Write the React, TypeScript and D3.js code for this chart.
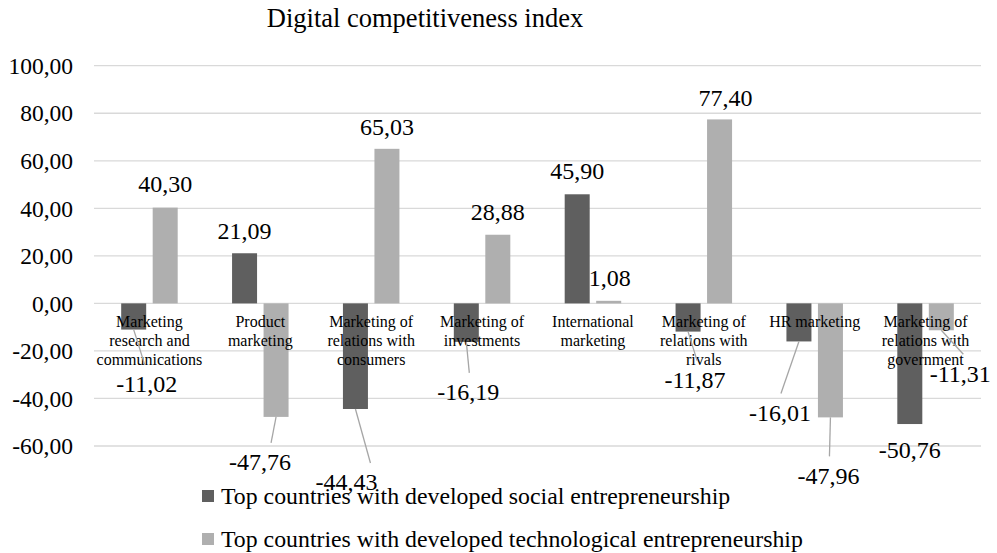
import React from "react";
import * as d3 from "d3";

const categories: string[][] = [
  ["Marketing", "research and", "communications"],
  ["Product", "marketing"],
  ["Marketing of", "relations with", "consumers"],
  ["Marketing of", "investments"],
  ["International", "marketing"],
  ["Marketing of", "relations with", "rivals"],
  ["HR marketing"],
  ["Marketing of", "relations with", "government"],
];
const socialValues = [-11.02, 21.09, -44.43, -16.19, 45.9, -11.87, -16.01, -50.76];
const techValues = [40.3, -47.76, 65.03, 28.88, 1.08, 77.4, -47.96, -11.31];
const seriesNames = [
  "Top countries with developed social entrepreneurship",
  "Top countries with developed technological entrepreneurship",
];
const yTicks = [-60, -40, -20, 0, 20, 40, 60, 80, 100];

// label placement tweaks (dx, dy from bar end, leader end dx, leader flag)
const socialLabelAdj: [number, number, number, boolean][] = [
  [13, 54, -2, true],
  [0, -23, 0, false],
  [-9, 73, 24, true],
  [2, 50, 1, true],
  [0, -24, 0, false],
  [7, 48, 2, true],
  [-19, 71, 1, true],
  [0, 26, 0, false],
];
const techLabelAdj: [number, number, number, boolean][] = [
  [0, -24, 0, false],
  [-16, 45, 11, true],
  [0, -22, 0, false],
  [0, -23, 0, false],
  [1, -23, 0, false],
  [6, -22, 0, false],
  [-2, 58, 1, true],
  [19, 43, 3, true],
];

const colors = ["#5f5f5f", "#afafaf"];
const FONT = "Liberation Serif";
const fmt = (v: number) => v.toFixed(2).replace(".", ",");
const ts = (size: number) => ({ fontFamily: FONT, fontSize: `${size}px` });

export default function App() {
  const W = 997, H = 553;
  const left = 94, right = 981, top = 65.7, bottom = 446;
  const y = d3.scaleLinear().domain([-60, 100]).range([bottom, top]);
  const x0 = d3.scaleBand<number>().domain(d3.range(categories.length)).range([left, right]).padding(0);
  const barW = 25;
  const gap = 6.5;
  const series = [socialValues, techValues];
  const adjs = [socialLabelAdj, techLabelAdj];

  return (
    <svg width={W} height={H} style={{ position: "absolute", left: 0, top: 0, background: "#fff" }}>
      <text x={425} y={27} textAnchor="middle" style={ts(26.5)} fill="#000">Digital competitiveness index</text>
      {yTicks.map((t) => (
        <g key={t}>
          <line x1={left} x2={right} y1={y(t)} y2={y(t)} stroke="#d9d9d9" strokeWidth={1.3} />
          <text x={73} y={y(t)} dy="0.35em" textAnchor="end" style={ts(23.5)} fill="#000">{fmt(t)}</text>
        </g>
      ))}
      {series.map((vals, si) =>
        vals.map((v, i) => {
          const cx = x0(i)! + x0.bandwidth() / 2 + (si === 0 ? -1 : 1) * (barW + gap) / 2;
          return (
            <rect key={`b${si}-${i}`} x={cx - barW / 2} width={barW} y={Math.min(y(v), y(0))}
              height={Math.abs(y(v) - y(0))} fill={colors[si]} />
          );
        })
      )}
      {categories.map((lines, i) => {
        const cx = x0(i)! + x0.bandwidth() / 2;
        return (
          <text key={`c${i}`} x={cx} y={327} textAnchor="middle" style={ts(16)} fill="#000">
            {lines.map((l, k) => (
              <tspan key={k} x={cx} dy={k === 0 ? 0 : 19}>{l}</tspan>
            ))}
          </text>
        );
      })}
      {series.map((vals, si) =>
        vals.map((v, i) => {
          const cx = x0(i)! + x0.bandwidth() / 2 + (si === 0 ? -1 : 1) * (barW + gap) / 2;
          const [dx, dy, ldx, leader] = adjs[si][i];
          const lx = cx + dx, ly = y(v) + dy;
          return (
            <g key={`l${si}-${i}`}>
              {leader && (
                <line x1={cx} y1={y(v)} x2={lx + ldx} y2={ly - 19} stroke="#a6a6a6" strokeWidth={1.3} />
              )}
              <text x={lx} y={ly} dy="0.35em" textAnchor="middle" style={ts(24)} fill="#000">{fmt(v)}</text>
            </g>
          );
        })
      )}
      {seriesNames.map((n, si) => (
        <g key={`lg${si}`}>
          <rect x={202} y={490 + si * 43} width={12} height={12} fill={colors[si]} />
          <text x={221} y={504 + si * 43} style={ts(23.8)} fill="#000">{n}</text>
        </g>
      ))}
    </svg>
  );
}
